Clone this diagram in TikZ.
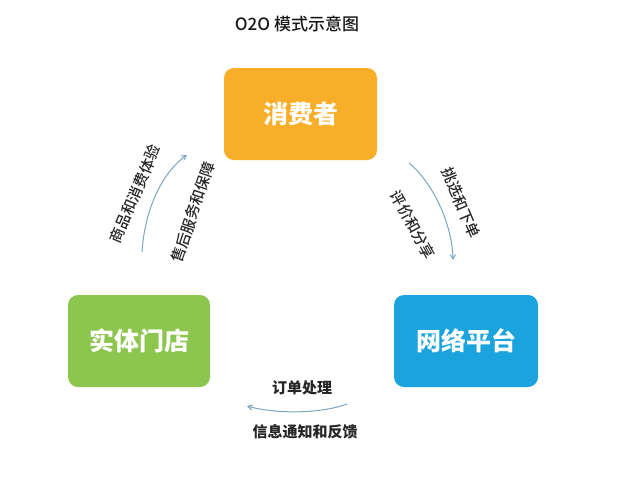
\documentclass[tikz,border=0pt]{standalone}
\usepackage{fontspec}
\setmainfont{Noto Sans CJK SC}
\newfontfamily\mediumcjk{Noto Sans CJK SC Medium}
\definecolor{consumer}{RGB}{249,174,42}
\definecolor{store}{RGB}{141,198,79}
\definecolor{online}{RGB}{27,163,221}
\definecolor{flow}{RGB}{125,165,190}
\usetikzlibrary{arrows}
\tikzstyle{party}=[rectangle,rounded corners=10pt,minimum height=92pt,inner sep=0pt,text=white,font=\fontsize{25}{25}\selectfont\bfseries]
\tikzstyle{flowlabel}=[inner sep=0pt,text=black!85,font=\fontsize{15}{15}\selectfont\mediumcjk]
\tikzstyle{edge} = [draw,flow,line width=1pt,-angle 60]

\begin{document}
\begin{tikzpicture}[x=1pt,y=-1pt]
                    \path[fill=white,use as bounding box] (0,0) rectangle (640,477);

                    \node[font=\fontsize{17}{17}\selectfont\mediumcjk,text=black!90] (title) at (297,24) {O2O 模式示意图};

                    \node[party,fill=consumer,minimum width=153pt] (consumer) at (300.5,114) {消费者};
                    \node[party,fill=store,minimum width=142pt] (store) at (139,341) {实体门店};
                    \node[party,fill=online,minimum width=144pt] (online) at (466,341) {网络平台};

                    \coordinate (up0) at (142,252);
                    \coordinate (up1) at (187,155);
                    \coordinate (down0) at (409,163);
                    \coordinate (down1) at (453,260);
                    \coordinate (back0) at (347,404);
                    \coordinate (back1) at (247,406);

                    \path[edge] (up0) .. controls (145,205) and (165,170) .. (up1);
                    \path[edge] (down0) .. controls (430,180) and (452,220) .. (down1);
                    \path[edge] (back0) .. controls (320,414) and (275,414) .. (back1);

                    \node[flowlabel,rotate=67] (goods) at (135,194) {商品和消费体验};
                    \node[flowlabel,rotate=71] (service) at (193,212) {售后服务和保障};
                    \node[flowlabel,rotate=-67] (choose) at (461,203) {挑选和下单};
                    \node[flowlabel,rotate=-61] (review) at (413,225) {评价和分享};
                    \node[flowlabel,font=\fontsize{15}{15}\selectfont\bfseries] (order) at (302,388) {订单处理};
                    \node[flowlabel,font=\fontsize{15}{15}\selectfont\bfseries] (notify) at (305,432) {信息通知和反馈};
                \end{tikzpicture}
\end{document}
